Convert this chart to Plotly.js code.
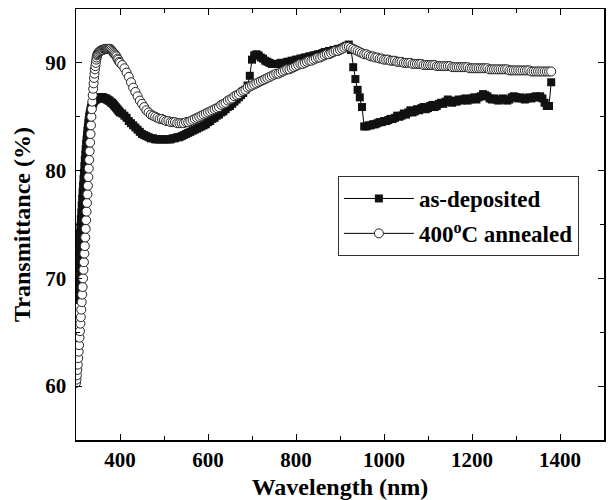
<!DOCTYPE html>
<html>
<head>
<meta charset="utf-8">
<script src="https://cdn.plot.ly/plotly-3.0.1.min.js"></script>
<style>html,body{margin:0;padding:0;background:#fff;}#chart{width:608px;height:500px;}</style>
</head>
<body>
<div id="chart"></div>
<script>
// Wavelength grid (nm)
const wavelength = [
300,301,302,303,304,305,306,307,308,309,310,311,312,313,314,315,316,317,318,319,
320,321,322,323,324,325,326,327,328,329,330,331,332,333,334,335,336,337,338,339,
340,341,342,343,344,345,346,347,348,349,350,
352,354,356,358,360,362,364,366,368,370,372,374,376,378,380,382,384,386,388,390,
392,394,396,398,400,
405,410,415,420,425,430,435,440,445,450,455,460,465,470,475,480,485,490,495,500,
505,510,515,520,525,530,535,540,545,550,555,560,565,570,575,580,585,590,595,600,
605,610,615,620,625,630,635,640,645,650,655,660,665,670,675,680,685,690,695,700,
705,710,715,720,725,730,735,740,745,750,755,760,765,770,775,780,785,790,795,800,
805,810,815,820,825,830,835,840,845,850,855,860,865,870,875,880,885,890,895,900,
905,910,915,920,925,930,935,940,945,950,955,960,965,970,975,980,985,990,995,1000,
1005,1010,1015,1020,1025,1030,1035,1040,1045,1050,1055,1060,1065,1070,1075,1080,1085,1090,1095,1100,
1105,1110,1115,1120,1125,1130,1135,1140,1145,1150,1155,1160,1165,1170,1175,1180,1185,1190,1195,1200,
1205,1210,1215,1220,1225,1230,1235,1240,1245,1250,1255,1260,1265,1270,1275,1280,1285,1290,1295,1300,
1305,1310,1315,1320,1325,1330,1335,1340,1345,1350,1355,1360,1365,1370,1375,1380
];

// As-deposited transmittance (%)
const asDeposited = [
68.0,68.7,69.4,70.1,70.8,71.5,72.2,72.9,73.5,74.2,74.8,75.5,76.1,76.8,77.4,78.0,78.6,79.2,79.8,80.4,
81.0,81.5,82.0,82.5,82.9,83.3,83.7,84.0,84.4,84.7,85.0,85.2,85.4,85.6,85.8,85.9,86.0,86.1,86.2,86.3,
86.4,86.5,86.5,86.6,86.6,86.6,86.7,86.7,86.7,86.7,86.7,
86.8,86.8,86.8,86.8,86.8,86.8,86.7,86.7,86.7,86.6,86.6,86.5,86.5,86.4,86.3,86.3,86.2,86.1,86.0,85.9,
85.8,85.7,85.6,85.5,85.4,
85.3,85.1,84.9,84.6,84.4,84.2,84.0,83.8,83.6,83.4,83.3,83.2,83.1,83.0,83.0,82.9,82.9,82.9,82.9,82.9,
82.9,82.9,82.9,83.0,83.0,83.1,83.1,83.2,83.3,83.4,83.5,83.6,83.7,83.8,83.9,84.0,84.1,84.2,84.3,84.5,
84.6,84.8,84.9,85.1,85.2,85.4,85.5,85.7,85.9,86.0,86.2,86.4,86.6,86.8,87.0,87.2,87.5,87.9,88.8,90.3,
90.7,90.8,90.7,90.5,90.4,90.2,90.1,90.0,89.9,89.9,89.9,89.9,90.0,90.0,90.0,90.1,90.1,90.2,90.2,90.3,
90.3,90.4,90.4,90.5,90.5,90.6,90.6,90.7,90.7,90.8,90.8,90.9,91.0,91.0,91.1,91.1,91.2,91.2,91.3,91.3,
91.4,91.5,91.6,91.7,91.2,89.6,88.5,87.5,86.8,85.9,84.1,84.1,84.2,84.2,84.3,84.3,84.4,84.5,84.5,84.6,
84.6,84.7,84.8,84.8,84.9,85.1,85.0,85.1,85.3,85.2,85.4,85.6,85.4,85.5,85.7,85.6,85.8,85.9,85.7,85.8,
86.0,86.1,85.9,86.0,86.2,86.3,86.2,86.4,86.6,86.4,86.3,86.5,86.4,86.6,86.5,86.6,86.7,86.5,86.6,86.7,
86.8,86.6,86.8,86.9,87.1,87.0,86.9,86.7,86.6,86.7,86.6,86.5,86.6,86.7,86.6,86.5,86.6,86.8,86.9,86.8,
86.7,86.8,86.7,86.6,86.7,86.8,86.7,86.8,86.9,86.8,86.9,86.7,86.3,86.0,86.0,88.2
];

// 400 oC annealed transmittance (%)
const annealed = [
60.3,60.6,61.0,61.5,62.0,62.6,63.2,63.8,64.5,65.1,65.8,66.4,67.1,67.8,68.5,69.2,70.0,70.8,71.5,72.3,
73.0,73.8,74.6,75.4,76.2,77.0,77.8,78.6,79.4,80.2,81.0,81.8,82.6,83.4,84.2,85.0,85.7,86.4,87.0,87.6,
88.1,88.6,89.0,89.4,89.7,90.0,90.3,90.5,90.7,90.8,90.9,
91.0,91.1,91.1,91.2,91.2,91.2,91.3,91.3,91.3,91.3,91.3,91.3,91.3,91.3,91.2,91.1,91.0,90.9,90.8,90.7,
90.6,90.4,90.3,90.1,90.0,
89.8,89.5,89.1,88.7,88.2,87.7,87.3,86.9,86.5,86.2,85.9,85.6,85.4,85.2,85.1,85.0,84.9,84.8,84.8,84.7,
84.6,84.6,84.5,84.5,84.5,84.4,84.4,84.4,84.4,84.5,84.5,84.6,84.7,84.8,84.9,85.0,85.1,85.2,85.3,85.4,
85.5,85.6,85.7,85.8,85.9,86.1,86.2,86.3,86.5,86.6,86.7,86.9,87.0,87.1,87.3,87.4,87.5,87.7,87.8,87.9,
88.0,88.1,88.2,88.3,88.4,88.5,88.6,88.7,88.8,88.9,89.0,89.0,89.1,89.2,89.3,89.4,89.4,89.5,89.6,89.7,
89.8,89.9,89.9,90.0,90.1,90.2,90.2,90.3,90.4,90.5,90.5,90.6,90.7,90.8,90.8,90.9,91.0,91.1,91.1,91.2,
91.3,91.4,91.5,91.5,91.4,91.3,91.2,91.1,91.0,90.9,90.8,90.8,90.7,90.6,90.6,90.5,90.5,90.4,90.4,90.3,
90.3,90.3,90.2,90.2,90.2,90.1,90.1,90.1,90.0,90.0,90.0,90.0,89.9,89.9,89.9,89.9,89.9,89.8,89.8,89.8,
89.8,89.8,89.8,89.7,89.7,89.7,89.7,89.7,89.7,89.7,89.6,89.6,89.6,89.6,89.6,89.6,89.6,89.6,89.5,89.5,
89.5,89.5,89.5,89.5,89.5,89.5,89.5,89.4,89.4,89.4,89.4,89.4,89.4,89.4,89.4,89.4,89.3,89.3,89.3,89.3,
89.3,89.3,89.3,89.3,89.3,89.3,89.2,89.2,89.2,89.2,89.2,89.2,89.2,89.2,89.2,89.2
];

const seriesNames = ['as-deposited', '400<sup>o</sup>C annealed'];

// Tick labels
const xTickVals = [400, 600, 800, 1000, 1200, 1400];
const xTickText = ['400', '600', '800', '1000', '1200', '1400'];
const yTickVals = [60, 70, 80, 90];
const yTickText = ['60', '70', '80', '90'];

const traces = [
  {
    x: wavelength, y: asDeposited, name: seriesNames[0], legendgroup: 'a',
    type: 'scatter', mode: 'lines+markers',
    line: {color: 'black', width: 1},
    marker: {symbol: 'square', size: 8, color: '#111', line: {width: 0}}
  },
  {
    x: wavelength, y: annealed, name: seriesNames[1], legendgroup: 'b',
    type: 'scatter', mode: 'lines+markers',
    line: {color: 'black', width: 1},
    marker: {symbol: 'circle', size: 9, color: 'white', line: {width: 1, color: '#222'}}
  }
];

const bold = s => '<b>' + s + '</b>';

const axisCommon = {
  showline: true, linecolor: 'black', linewidth: 1.5, mirror: 'ticks',
  ticks: 'inside', ticklen: 6, tickwidth: 1, tickcolor: 'black',
  showgrid: false, zeroline: false, tickmode: 'array',
  tickfont: {family: 'Liberation Serif', size: 21, color: 'black'}
};

const layout = {
  width: 608, height: 500,
  margin: {l: 76, r: 4, t: 9, b: 60},
  paper_bgcolor: 'white', plot_bgcolor: 'white',
  font: {family: 'Liberation Serif', color: 'black'},
  showlegend: true,
  xaxis: Object.assign({}, axisCommon, {
    range: [300, 1500],
    tickvals: xTickVals, ticktext: xTickText.map(bold),
    minor: {dtick: 100, tick0: 0, ticks: 'inside', ticklen: 4, tickcolor: 'black', showgrid: false},
    title: {text: bold('Wavelength (nm)'), standoff: 8,
            font: {family: 'Liberation Serif', size: 24, color: 'black'}}
  }),
  yaxis: Object.assign({}, axisCommon, {
    range: [55, 95], ticklabelstandoff: 4,
    tickvals: yTickVals, ticktext: yTickText.map(bold),
    minor: {dtick: 5, tick0: 0, ticks: 'inside', ticklen: 4, tickcolor: 'black', showgrid: false},
    title: {text: bold('Transmittance (%)'), standoff: 8,
            font: {family: 'Liberation Serif', size: 24, color: 'black'}}
  }),
  legend: {
    x: 0.496, y: 0.6125, xanchor: 'left', yanchor: 'top',
    bgcolor: 'white', bordercolor: '#333', borderwidth: 1,
    traceorder: 'grouped', tracegroupgap: 2, itemwidth: 70,
    font: {family: 'Liberation Serif', size: 23, weight: 700, color: 'black'}
  }
};

Plotly.newPlot('chart', traces, layout, {displayModeBar: false, staticPlot: true});
</script>
</body>
</html>
